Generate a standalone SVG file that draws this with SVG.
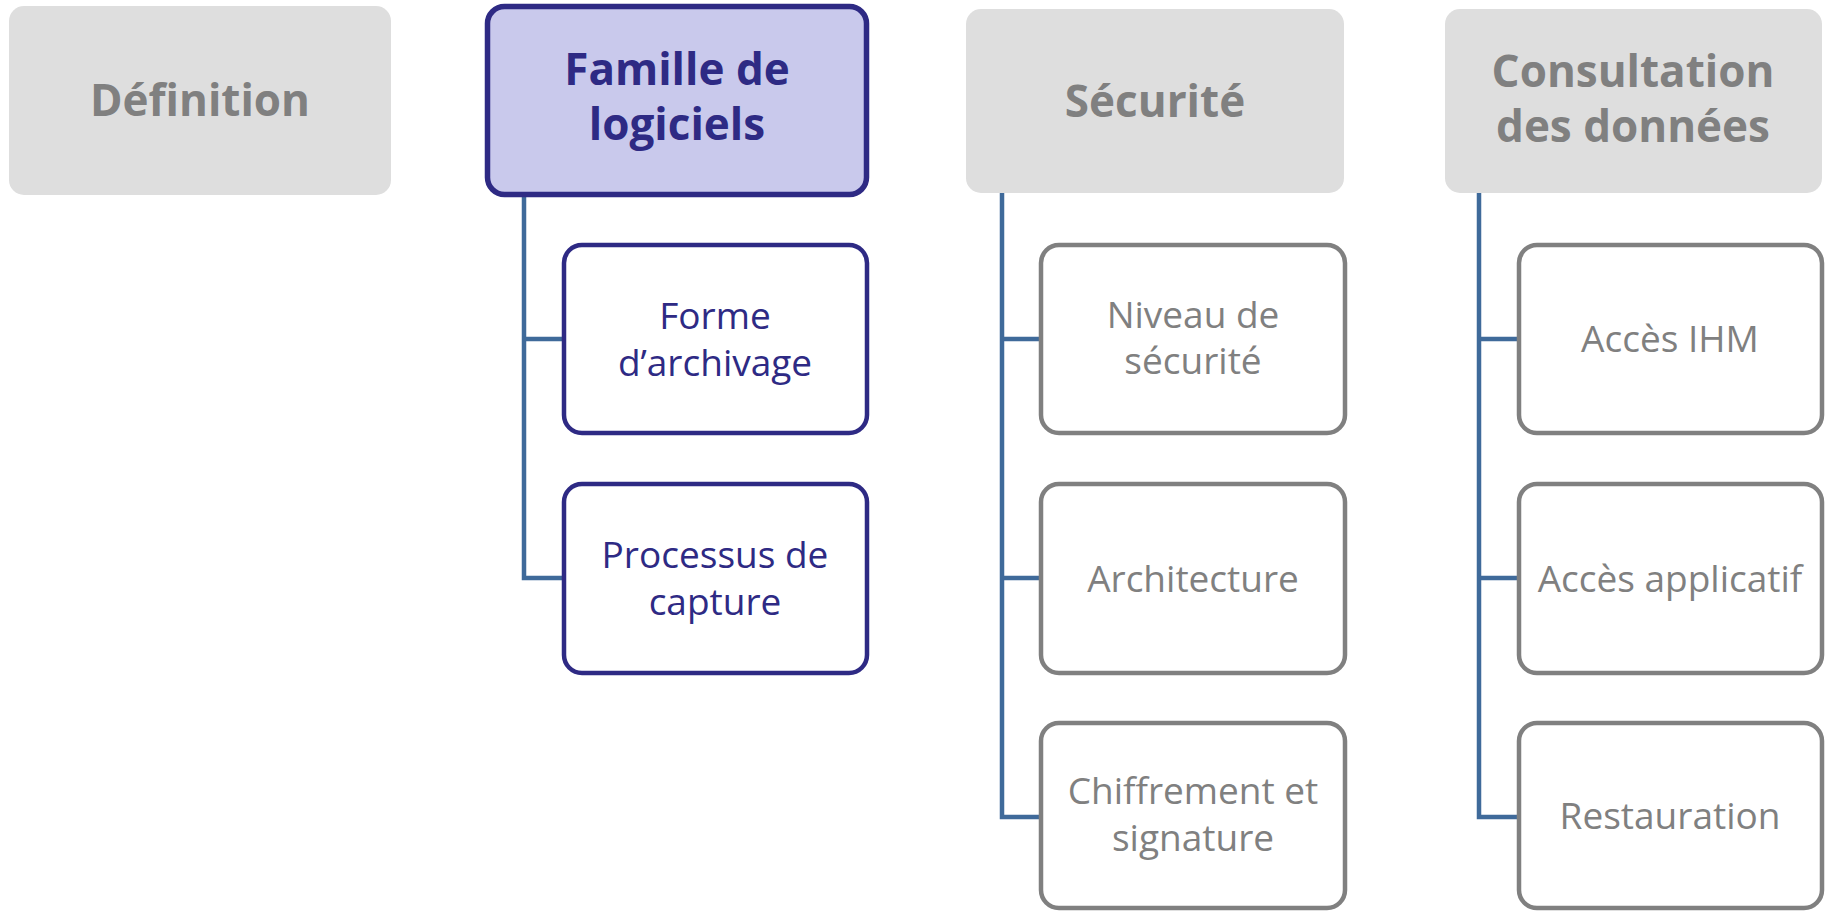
<svg xmlns="http://www.w3.org/2000/svg" width="1830" height="912" viewBox="0 0 1830 912">
  <style>
    .head { fill: #DEDEDE; }
    .head-active { fill: #C9C9EC; stroke: #2E2A84; stroke-width: 5.5; }
    .item { fill: #FFFFFF; stroke: #808080; stroke-width: 4.5; }
    .item-active { fill: #FFFFFF; stroke: #2E2A84; stroke-width: 4.5; }
    .t-head { font-family: "Open Sans", "Liberation Sans", sans-serif; font-weight: 700; font-size: 44px; text-anchor: middle; fill: #808080; }
    .t-head-active { fill: #2E2A84; }
    .t-item { font-family: "Open Sans", "Liberation Sans", sans-serif; font-size: 37px; text-anchor: middle; fill: #808080; }
    .t-item-active { fill: #2E2A84; }
    .link { fill: none; stroke: #3F6A9A; stroke-width: 4.5; stroke-linejoin: miter; }
  </style>

  <!-- connectors -->
  <g id="connectors">
    <path class="link" d="M524 197 V578 H564"/>
    <path class="link" d="M524 339 H564"/>
    <path class="link" d="M1002 193 V817 H1041"/>
    <path class="link" d="M1002 339 H1041"/>
    <path class="link" d="M1002 578 H1041"/>
    <path class="link" d="M1479 193 V817 H1519"/>
    <path class="link" d="M1479 339 H1519"/>
    <path class="link" d="M1479 578 H1519"/>
  </g>

  <!-- top row -->
  <g id="definition">
    <rect class="head" x="9" y="6" width="382" height="189" rx="15"/>
    <text class="t-head" x="200" y="116">Définition</text>
  </g>
  <g id="famille">
    <rect class="head-active" x="487.5" y="6.5" width="379" height="188" rx="17"/>
    <text class="t-head t-head-active" x="677" y="85">Famille de</text>
    <text class="t-head t-head-active" x="677" y="140">logiciels</text>
  </g>
  <g id="securite">
    <rect class="head" x="966" y="9" width="378" height="184" rx="15"/>
    <text class="t-head" x="1155" y="117">Sécurité</text>
  </g>
  <g id="consultation">
    <rect class="head" x="1445" y="9" width="377" height="184" rx="15"/>
    <text class="t-head" x="1633" y="87">Consultation</text>
    <text class="t-head" x="1633" y="142">des données</text>
  </g>

  <!-- Famille de logiciels children -->
  <g id="forme-archivage">
    <rect class="item-active" x="564" y="245" width="303" height="188" rx="18"/>
    <text class="t-item t-item-active" x="715" y="329">Forme</text>
    <text class="t-item t-item-active" x="715" y="376">d’archivage</text>
  </g>
  <g id="processus-capture">
    <rect class="item-active" x="564" y="484" width="303" height="189" rx="18"/>
    <text class="t-item t-item-active" x="715" y="568">Processus de</text>
    <text class="t-item t-item-active" x="715" y="615">capture</text>
  </g>

  <!-- Sécurité children -->
  <g id="niveau-securite">
    <rect class="item" x="1041" y="245" width="304" height="188" rx="18"/>
    <text class="t-item" x="1193" y="328">Niveau de</text>
    <text class="t-item" x="1193" y="374">sécurité</text>
  </g>
  <g id="architecture">
    <rect class="item" x="1041" y="484" width="304" height="189" rx="18"/>
    <text class="t-item" x="1193" y="592">Architecture</text>
  </g>
  <g id="chiffrement-signature">
    <rect class="item" x="1041" y="723" width="304" height="185" rx="18"/>
    <text class="t-item" x="1193" y="804">Chiffrement et</text>
    <text class="t-item" x="1193" y="851">signature</text>
  </g>

  <!-- Consultation des données children -->
  <g id="acces-ihm">
    <rect class="item" x="1519" y="245" width="303" height="188" rx="18"/>
    <text class="t-item" x="1670" y="352">Accès IHM</text>
  </g>
  <g id="acces-applicatif">
    <rect class="item" x="1519" y="484" width="303" height="189" rx="18"/>
    <text class="t-item" x="1670" y="592">Accès applicatif</text>
  </g>
  <g id="restauration">
    <rect class="item" x="1519" y="723" width="303" height="185" rx="18"/>
    <text class="t-item" x="1670" y="829">Restauration</text>
  </g>
</svg>
